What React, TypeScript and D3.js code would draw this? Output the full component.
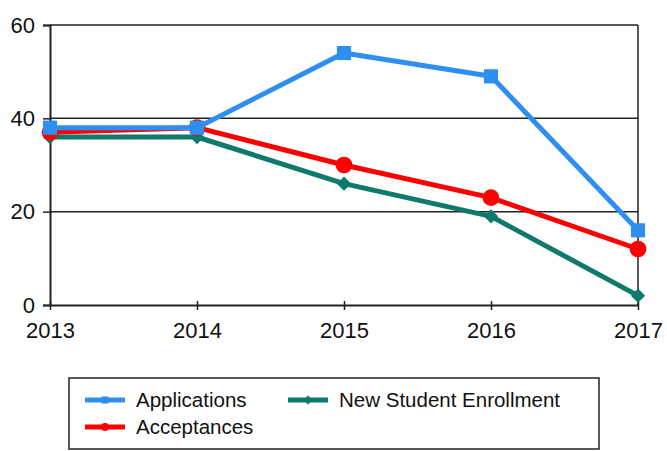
import React from 'react'
import * as d3 from "d3";

const years = ["2013", "2014", "2015", "2016", "2017"]
const applications = [38, 38, 54, 49, 16]
const acceptances = [37, 38, 30, 23, 12]
const enrollment = [36, 36, 26, 19, 2]
const yTicks = [0, 20, 40, 60]

const seriesList = [
  { name: "Applications", values: applications, color: "#2f8ff0", marker: "square" },
  { name: "Acceptances", values: acceptances, color: "#ff0000", marker: "circle" },
  { name: "New Student Enrollment", values: enrollment, color: "#0f7a6c", marker: "diamond" },
]

function drawChart(svgRef: React.RefObject<SVGSVGElement>) {
  const width = 667
  const height = 451
  const margin = { top: 25, right: 29, bottom: 146, left: 50 }

  const x = d3.scalePoint(years, [margin.left, width - margin.right])
  const y = d3.scaleLinear([0, 60], [height - margin.bottom, margin.top])

  const svg = d3.select(svgRef.current)
    .attr("width", width)
    .attr("height", height)
    .attr("font-family", "Liberation Sans, Arial, sans-serif")
  svg.selectAll("*").remove()

  // grid lines
  svg.append("g")
    .selectAll("line")
    .data(yTicks.filter(d => d > 0))
    .join("line")
    .attr("x1", margin.left)
    .attr("x2", width - margin.right)
    .attr("y1", d => y(d))
    .attr("y2", d => y(d))
    .attr("stroke", "#222")
    .attr("stroke-width", 1.5)

  // frame
  svg.append("line")
    .attr("x1", width - margin.right).attr("x2", width - margin.right)
    .attr("y1", margin.top).attr("y2", height - margin.bottom)
    .attr("stroke", "#222").attr("stroke-width", 1.5)

  const yAxis = svg.append("g")
    .attr("transform", `translate(${margin.left},0)`)
    .call(d3.axisLeft(y).tickValues(yTicks).tickSize(7).tickPadding(8))
  yAxis.select(".domain").attr("stroke", "#222").attr("stroke-width", 2)
  yAxis.selectAll(".tick line").attr("stroke", "#222").attr("stroke-width", 1.5)
  yAxis.selectAll("text").attr("font-size", 22).attr("fill", "#111").attr("font-family", null)

  const xAxis = svg.append("g")
    .attr("transform", `translate(0,${height - margin.bottom})`)
    .call(d3.axisBottom(x).tickSize(5).tickSizeOuter(0).tickPadding(12))
  xAxis.select(".domain").attr("stroke", "#222").attr("stroke-width", 2)
  xAxis.selectAll(".tick line").attr("stroke", "#222").attr("stroke-width", 1.5).attr("y1", -4)
  xAxis.selectAll("text").attr("font-size", 22).attr("fill", "#111").attr("font-family", null)

  const line = d3.line<number>()
    .x((_, i) => x(years[i])!)
    .y(d => y(d))

  const symbolFor = (m: string, size: number) => {
    if (m === "square") return d3.symbol(d3.symbolSquare, size)()
    if (m === "circle") return d3.symbol(d3.symbolCircle, size)()
    return d3.symbol(d3.symbolDiamond2, size)()
  }
  const markerSize: Record<string, number> = { square: 200, circle: 220, diamond: 130 }

  // draw series in reverse so applications stays on top
  seriesList.slice().reverse().forEach(s => {
    const g = svg.append("g")
    g.append("path")
      .datum(s.values)
      .attr("fill", "none")
      .attr("stroke", s.color)
      .attr("stroke-width", 5)
      .attr("stroke-linejoin", "round")
      .attr("d", line)
    g.selectAll("path.mark")
      .data(s.values)
      .join("path")
      .attr("class", "mark")
      .attr("fill", s.color)
      .attr("transform", (d, i) => `translate(${x(years[i])},${y(d)})`)
      .attr("d", symbolFor(s.marker, markerSize[s.marker]))
  })

  // legend
  const legend = svg.append("g")
  legend.append("rect")
    .attr("x", 69).attr("y", 378)
    .attr("width", 530).attr("height", 71)
    .attr("fill", "white").attr("stroke", "#222").attr("stroke-width", 1.5)

  const legendPos = [
    { x: 85, y: 400 },
    { x: 85, y: 427 },
    { x: 288, y: 400 },
  ]
  seriesList.forEach((s, i) => {
    const p = legendPos[i]
    const item = legend.append("g").attr("transform", `translate(${p.x},${p.y})`)
    item.append("line")
      .attr("x1", 0).attr("x2", 40)
      .attr("stroke", s.color).attr("stroke-width", 5)
    item.append("path")
      .attr("transform", "translate(20,0)")
      .attr("fill", s.color)
      .attr("d", symbolFor(s.marker, 50))
    item.append("text")
      .attr("x", 51).attr("dy", "0.35em")
      .attr("font-size", 20.5).attr("fill", "#111")
      .text(s.name)
  })

  return svg.node()
}

const App: React.FunctionComponent = () => {
  const svg = React.useRef<SVGSVGElement>(null)

  React.useEffect(() => {
    drawChart(svg)
  }, [svg])

  return (
    <div id="chart" style={{ position: "absolute", left: 0, top: 0 }}>
      <svg ref={svg} style={{ display: "block" }} />
    </div>
  )
}

export default App
